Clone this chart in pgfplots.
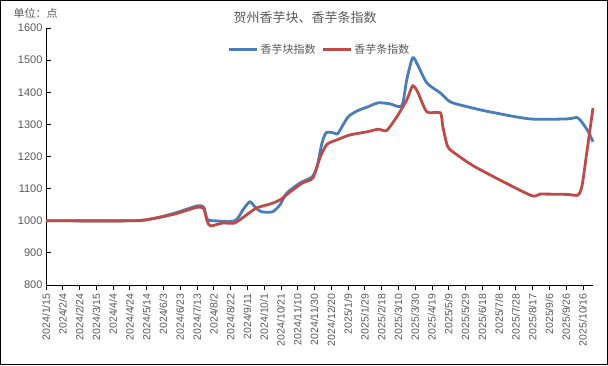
\documentclass[border=0pt]{standalone}
\usepackage{fontspec}
\setmainfont{Liberation Sans}
\newfontfamily\cjk{Noto Sans CJK SC}
\usepackage{pgfplots}
\pgfplotsset{compat=1.18}
\definecolor{blueS}{HTML}{4A7EBB}
\definecolor{redS}{HTML}{BE4B48}
\definecolor{txt}{HTML}{595959}
\begin{document}
\begin{tikzpicture}[x=1pt,y=1pt]
\useasboundingbox (0,0) rectangle (608,365);
\draw[black, line width=0.9pt] (0.45,0.45) rectangle (607.55,364.55);
\node[anchor=west, text=txt, font=\cjk\fontsize{11}{13}\selectfont] at (10,352) {单位：点};
\node[text=txt, font=\cjk\fontsize{13}{15}\selectfont] at (305,347) {贺州香芋块、香芋条指数};
\begin{axis}[at={(46pt,80pt)}, anchor=south west, width=547pt, height=257pt, scale only axis,
  xmin=0, xmax=652, ymin=800, ymax=1600,
  ytick={800,900,...,1600},
  xtick={0,20,...,640},
  xticklabels={2024/1/15,2024/2/4,2024/2/24,2024/3/15,2024/4/4,2024/4/24,2024/5/14,2024/6/3,2024/6/23,2024/7/13,2024/8/2,2024/8/22,2024/9/11,2024/10/1,2024/10/21,2024/11/10,2024/11/30,2024/12/20,2025/1/9,2025/1/29,2025/2/18,2025/3/10,2025/3/30,2025/4/19,2025/5/9,2025/5/29,2025/6/18,2025/7/8,2025/7/28,2025/8/17,2025/9/6,2025/9/26,2025/10/16},
  axis x line*=bottom, axis y line*=left,
  axis line style={-, black, line width=0.8pt},
  xtick align=outside, ytick align=inside,
  major tick length=5pt,
  tick style={black, line width=0.8pt},
  /pgf/number format/assume math mode=true,
  /pgf/number format/1000 sep={},
  yticklabel style={text=txt, font=\fontsize{11}{13}\selectfont},
  xticklabel style={text=txt, font=\fontsize{10.5}{12}\selectfont, rotate=90, anchor=east},
  legend style={at={(0.5,0.915)}, anchor=center, draw=none, fill=none, legend columns=2,
    font=\cjk\fontsize{11}{13}\selectfont, text=txt,
    /tikz/every even column/.append style={column sep=4pt}},
  legend image code/.code={\draw[#1] (0pt,0pt) -- (28pt,0pt);},
  clip=false,
]
\addplot[blueS, line width=2.8pt, smooth, tension=0.45] coordinates {
(0,1000)(104,1000)(130,1008)(155,1025)(180,1046)(188,1042)(192,1005)(200,1000)(225,1000)(235,1035)(243,1059)(250,1040)(257,1028)(270,1028)(279,1050)(287,1086)(303,1118)(317,1136)(323,1168)(329,1242)(334,1274)(342,1274)(347,1270)(350,1280)(360,1323)(371,1342)(383,1354)(396,1367)(410,1364)(424,1358)(430,1439)(437,1507)(443,1485)(454,1429)(470,1398)(482,1370)(502,1355)(529,1339)(577,1317)(621,1317)(634,1320)(645,1283)(652,1246)
};
\addlegendentry{香芋块指数}
\addplot[redS, line width=2.8pt, smooth, tension=0.4] coordinates {
(0,1000)(104,1000)(130,1008)(155,1022)(180,1042)(188,1038)(192,1000)(196,984)(211,993)(225,993)(240,1020)(251,1040)(267,1052)(279,1065)(291,1090)(306,1118)(318,1133)(327,1199)(335,1238)(347,1252)(362,1267)(383,1277)(396,1285)(406,1281)(418,1323)(430,1376)(437,1420)(443,1401)(454,1339)(470,1336)(473,1293)(479,1230)(490,1205)(514,1164)(577,1080)(589,1083)(621,1082)(634,1080)(639,1110)(645,1220)(652,1351)
};
\addlegendentry{香芋条指数}
\end{axis}
\end{tikzpicture}
\end{document}
